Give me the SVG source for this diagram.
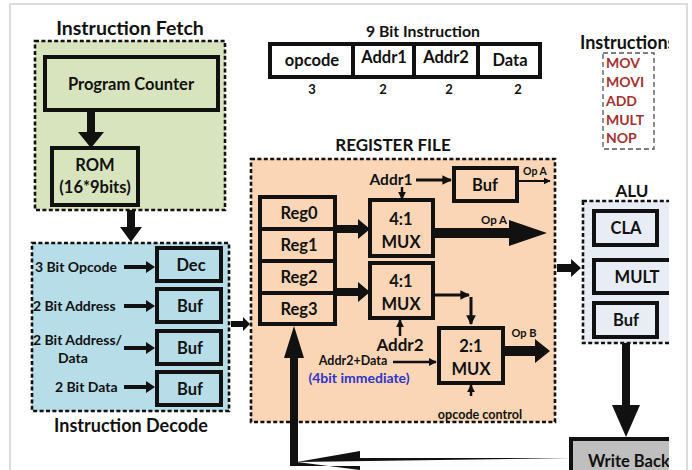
<svg xmlns="http://www.w3.org/2000/svg" width="692" height="470" viewBox="0 0 692 470">
<style>
text{font-family:Lato,"Open Sans","Liberation Sans",sans-serif;font-weight:bold;fill:#111}
.t{font-size:18px;text-anchor:middle}
.m{font-size:16.5px;text-anchor:middle}
.s{font-size:14px}
.grp{stroke:#111;stroke-width:2.6;stroke-dasharray:4 2.4}
.bx{stroke:#111;stroke-width:4}
.ln{stroke:#111;fill:none}
.red{fill:#a3332e;font-size:14px}
</style>
<defs>
<clipPath id="cp"><rect x="0" y="0" width="669" height="470"/></clipPath>
<marker id="ah" viewBox="0 0 10 10" refX="9" refY="5" markerWidth="3.2" markerHeight="3.2" orient="auto"><path d="M0,0L10,5L0,10z" fill="#111"/></marker>
</defs>
<rect x="10" y="4" width="677" height="480" fill="#fff" stroke="#dcdcdc" stroke-width="2"/>

<g id="fetch">
<text class="t" x="130" y="35" style="font-size:19.5px">Instruction Fetch</text>
<rect class="grp" x="35" y="41" width="190" height="169" fill="#d8e4bd"/>
<g id="pc"><rect class="bx" x="45" y="57" width="173" height="53" fill="#d8e4bd"/><text class="m" x="131" y="90">Program Counter</text></g>
<g id="rom"><rect class="bx" x="52" y="148" width="86" height="57" fill="#d8e4bd"/><text class="m" x="95" y="171">ROM</text><text class="m" x="95" y="193">(16*9bits)</text></g>
</g>

<g id="decode">
<rect class="grp" x="32" y="243" width="197" height="168" fill="#b7dde8"/>
<text class="t" x="131" y="432">Instruction Decode</text>
<g id="dec"><rect class="bx" x="157" y="248" width="64" height="33" fill="#b7dde8"/><text class="m" x="191" y="271">Dec</text></g>
<g id="buf1"><rect class="bx" x="157" y="289" width="64" height="33" fill="#b7dde8"/><text class="m" x="190" y="312">Buf</text></g>
<g id="buf2"><rect class="bx" x="157" y="331" width="64" height="33" fill="#b7dde8"/><text class="m" x="190" y="354">Buf</text></g>
<g id="buf3"><rect class="bx" x="157" y="372" width="64" height="33" fill="#b7dde8"/><text class="m" x="190" y="395">Buf</text></g>
<text class="s" x="35" y="272">3 Bit Opcode</text>
<text class="s" x="33" y="311">2 Bit Address</text>
<text class="s" x="33" y="345">2 Bit Address/</text>
<text class="s" x="73" y="363" text-anchor="middle">Data</text>
<text class="s" x="55" y="392">2 Bit Data</text>
</g>

<g id="instr">
<text class="m" x="423" y="37" style="font-size:15.8px">9 Bit Instruction</text>
<rect class="bx" x="270" y="44" width="270" height="33" fill="#fff"/>
<path class="ln" stroke-width="4" d="M353,44V77M414,44V77M478,44V77"/>
<text class="m" x="312" y="66">opcode</text>
<text class="m" x="384" y="63">Addr1</text>
<text class="m" x="446" y="63">Addr2</text>
<text class="m" x="510" y="66">Data</text>
<text class="s" x="312" y="94" text-anchor="middle" style="font-size:13px">3</text>
<text class="s" x="383" y="94" text-anchor="middle" style="font-size:13px">2</text>
<text class="s" x="449" y="94" text-anchor="middle" style="font-size:13px">2</text>
<text class="s" x="518" y="94" text-anchor="middle" style="font-size:13px">2</text>
</g>

<g id="instrlist" clip-path="url(#cp)">
<text x="580" y="49" style="font-size:18px">Instructions</text>
<rect x="603" y="53" width="51" height="96" fill="none" stroke="#555" stroke-width="1.3" stroke-dasharray="5 3"/>
<text class="red" x="606" y="68">MOV</text>
<text class="red" x="606" y="87">MOVI</text>
<text class="red" x="606" y="106">ADD</text>
<text class="red" x="606" y="125">MULT</text>
<text class="red" x="606" y="143">NOP</text>
</g>

<g id="regfile">
<text class="t" x="393" y="151" style="font-size:17px">REGISTER FILE</text>
<rect class="grp" x="251" y="159" width="304" height="263" fill="#fbd6b6"/>
<g id="regs"><rect class="bx" x="260" y="197" width="75" height="127" fill="#fbd6b6"/>
<path class="ln" stroke-width="4" d="M260,229H335M260,261H335M260,293H335"/>
<text class="m" x="299" y="219">Reg0</text><text class="m" x="299" y="251">Reg1</text><text class="m" x="299" y="283">Reg2</text><text class="m" x="299" y="315">Reg3</text></g>
<g id="mux1"><rect class="bx" x="370" y="200" width="63" height="56" fill="#fbd6b6"/><text class="m" x="401" y="225">4:1</text><text class="m" x="401" y="248">MUX</text></g>
<g id="mux2"><rect class="bx" x="370" y="263" width="63" height="55" fill="#fbd6b6"/><text class="m" x="401" y="287">4:1</text><text class="m" x="401" y="310">MUX</text></g>
<g id="bufa"><rect class="bx" x="454" y="168" width="63" height="33" fill="#fbd6b6"/><text class="m" x="485" y="191">Buf</text></g>
<g id="mux3"><rect class="bx" x="439" y="328" width="64" height="55" fill="#fbd6b6"/><text class="m" x="471" y="352">2:1</text><text class="m" x="471" y="375">MUX</text></g>
<text class="m" x="391" y="185" style="font-size:15.5px">Addr1</text>
<text class="m" x="400" y="351" style="font-size:17px">Addr2</text>
<text x="353" y="365" style="font-size:12.5px;text-anchor:middle">Addr2+Data</text>
<text x="359" y="383" style="font-size:14px;text-anchor:middle;fill:#2f33c8">(4bit immediate)</text>
<text x="480" y="419" style="font-size:12.6px;text-anchor:middle">opcode control</text>
<text x="535" y="175" style="font-size:10.5px;text-anchor:middle">Op A</text>
<text x="494" y="224" style="font-size:11.5px;text-anchor:middle">Op A</text>
<text x="524" y="337" style="font-size:11px;text-anchor:middle">Op B</text>
</g>

<g id="alu" clip-path="url(#cp)">
<text class="t" x="632" y="197" style="font-size:17px">ALU</text>
<rect class="grp" x="583" y="201" width="100" height="142" fill="#e8edf5"/>
<g id="cla"><rect class="bx" x="594" y="211" width="63" height="34" fill="#e8edf5"/><text class="m" x="626" y="234">CLA</text></g>
<g id="mult"><rect class="bx" x="594" y="260" width="90" height="33" fill="#e8edf5"/><text class="m" x="637" y="283">MULT</text></g>
<g id="bufalu"><rect class="bx" x="594" y="303" width="63" height="34" fill="#e8edf5"/><text class="m" x="626" y="326">Buf</text></g>
</g>

<g id="writeback" clip-path="url(#cp)">
<rect class="bx" x="571" y="439" width="120" height="40" fill="#bfbfbf"/>
<text x="588" y="467" style="font-size:16.5px">Write Back</text>
</g>

<g id="connectors" fill="#111">
<path d="M87,110h8v22h9l-13,16l-13,-16h9z"/>
<path d="M127,210h8v17h7l-11,15l-11,-15h7z"/>
<path d="M231,321h12v-4l7,7l-7,7v-4h-12z"/>
<path d="M124,265h22v-4l9,6l-9,6v-4h-22z"/>
<path d="M124,304h22v-4l9,6l-9,6v-4h-22z"/>
<path d="M124,346h22v-4l9,6l-9,6v-4h-22z"/>
<path d="M124,385h22v-4l9,6l-9,6v-4h-22z"/>
<path d="M336,225h22v-6l12,10l-12,10v-6h-22z"/>
<path d="M336,288h22v-6l12,10l-12,10v-6h-22z"/>
<path d="M433,228h76v-8l38,13l-38,13v-8h-76z"/>
<path d="M505,346h30v-7l15,12l-15,12v-7h-30z"/>
<path d="M557,264h14v-5l10,9l-10,9v-5h-14z"/>
<path d="M622,343h8v62h10l-14,32l-14,-32h10z"/>
<path d="M571,458H360v-7l-63,11l63,8v-4h-62v-4z"/>
<path d="M290,466V358h-6l10,-32l10,32h-6v108z"/>
<path class="ln" stroke-width="3" marker-end="url(#ah)" d="M416,180H451"/>
<path class="ln" stroke-width="2.5" marker-end="url(#ah)" d="M402,187V199"/>
<path class="ln" stroke-width="2.2" marker-end="url(#ah)" d="M517,181H550"/>
<path class="ln" stroke-width="3" marker-end="url(#ah)" d="M435,295H469"/>
<path class="ln" stroke-width="3" marker-end="url(#ah)" d="M471,297V324"/>
<path class="ln" stroke-width="2.5" marker-end="url(#ah)" d="M400,336V320"/>
<path class="ln" stroke-width="2.5" marker-end="url(#ah)" d="M393,362H436"/>
<path class="ln" stroke-width="2.5" marker-end="url(#ah)" d="M471,396V385"/>
</g>
</svg>
